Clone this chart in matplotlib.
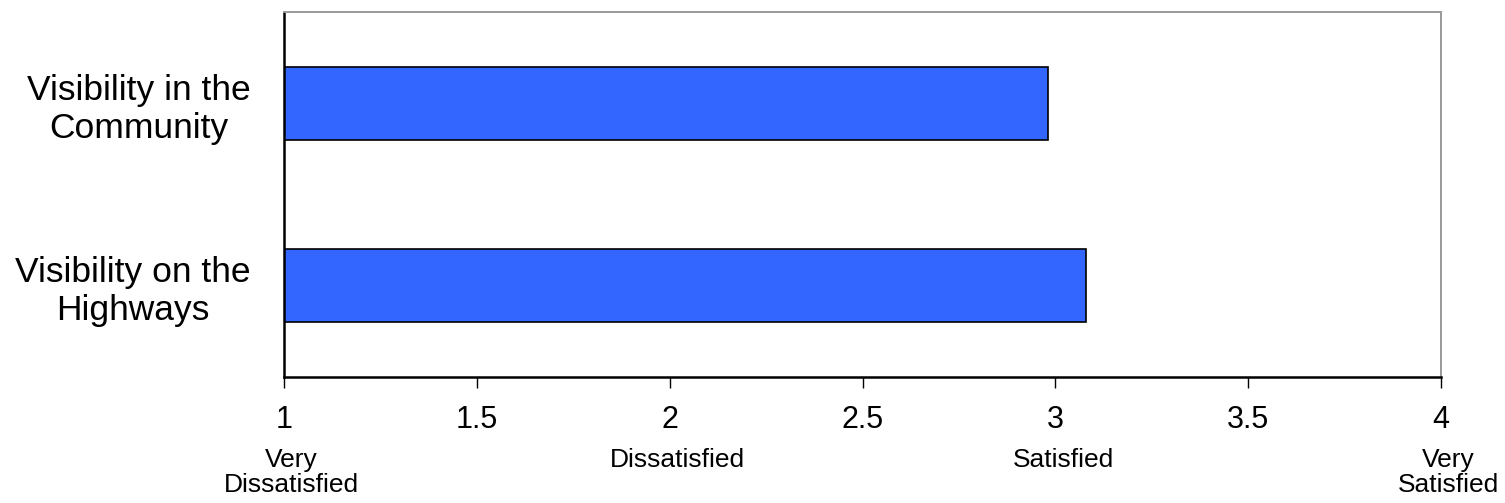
import matplotlib
matplotlib.use("Agg")
import matplotlib.pyplot as plt

plt.rcParams["font.family"] = ["Liberation Sans", "DejaVu Sans"]

categories = ["Visibility in the\nCommunity", "Visibility on the\nHighways"]
scores = [2.98, 3.08]
x_ticks = [1, 1.5, 2, 2.5, 3, 3.5, 4]
x_tick_labels = ["1", "1.5", "2", "2.5", "3", "3.5", "4"]
scale_points = [1, 2, 3, 4]
scale_names = ["Very\nDissatisfied", "Dissatisfied", "Satisfied", "Very\nSatisfied"]

fig = plt.figure(figsize=(15.05, 5.03), dpi=100)
ax = fig.add_axes([0.1887, 0.2505, 0.7688, 0.7255])

ypos = list(range(len(categories)))
ax.barh(ypos, [s - 1 for s in scores], left=1, height=0.4,
        color="#3366FF", edgecolor="black", linewidth=1.2)

ax.set_xlim(1, 4)
ax.set_ylim(1.5, -0.5)
ax.set_xticks(x_ticks)
ax.set_xticklabels(x_tick_labels, fontsize=22)
ax.set_yticks(ypos)
ax.set_yticklabels(categories, fontsize=25.5, multialignment="center")
ax.tick_params(axis="x", direction="out", length=8, width=1, pad=12)
ax.tick_params(axis="y", length=0, pad=24)

for side in ("left", "bottom"):
    ax.spines[side].set_color("black")
    ax.spines[side].set_linewidth(1.8)
for side in ("top", "right"):
    ax.spines[side].set_color("#9a9a9a")
    ax.spines[side].set_linewidth(1.4)

# verbal anchors of the rating scale under the numeric ticks
trans = ax.get_xaxis_transform()
for xv, name in zip(scale_points, scale_names):
    ax.text(xv + 0.02, -0.195, name, transform=trans, ha="center", va="top",
            fontsize=19, multialignment="center", linespacing=1.05,
            clip_on=False)

fig.savefig("out.png", dpi=100)
